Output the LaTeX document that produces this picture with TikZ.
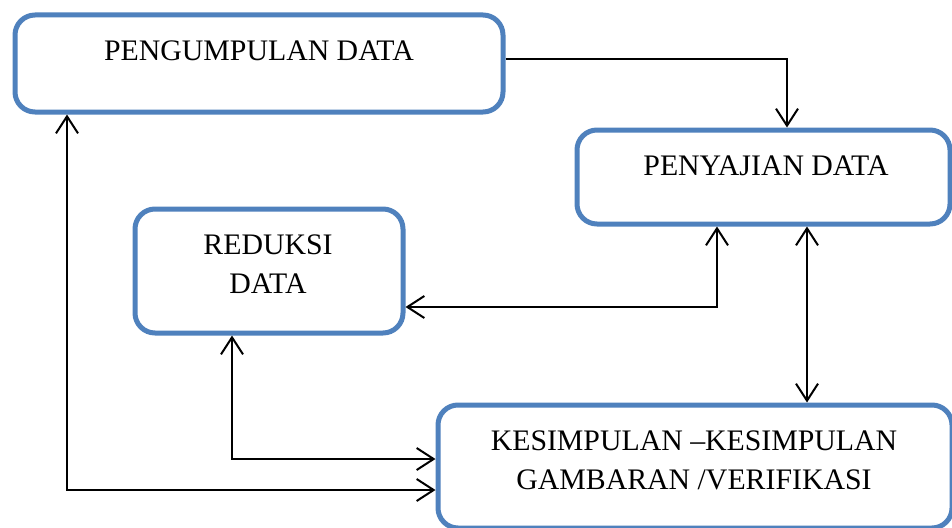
\documentclass[tikz,border=0pt]{standalone}
\usepackage{fontspec}
\setmainfont{Liberation Serif}
\usetikzlibrary{arrows.meta}
\definecolor{boxblue}{HTML}{4F81BD}
\tikzset{
  flowbox/.style={draw=boxblue, line width=5pt, rounded corners=20pt, fill=white, inner sep=0pt},
  conn/.style={line width=2pt, -{Straight Barb[length=17pt,width=22pt,line width=2pt]}},
  both/.style={line width=2pt, {Straight Barb[length=17pt,width=22pt,line width=2pt]}-{Straight Barb[length=17pt,width=22pt,line width=2pt]}},
  lbl/.style={font=\fontsize{29.8}{39}\selectfont, inner sep=0pt, anchor=base}
}
\begin{document}
\begin{tikzpicture}[x=1pt,y=-1pt]
\useasboundingbox (0,0) rectangle (952,527);
% boxes
\node[flowbox, minimum width=488pt, minimum height=97pt] (pd) at (259,63.5) {};
\node[flowbox, minimum width=373pt, minimum height=94pt] (ps) at (763.5,177) {};
\node[flowbox, minimum width=268pt, minimum height=124pt] (rd) at (269,271) {};
\node[flowbox, minimum width=514pt, minimum height=123pt] (ks) at (695,466.5) {};
% texts
\node[lbl] (tpd) at (259,60) {PENGUMPULAN DATA};
\node[lbl] (tps) at (766,175) {PENYAJIAN DATA};
\node[lbl] (trd1) at (268,254) {REDUKSI};
\node[lbl] (trd2) at (268,293) {DATA};
\node[lbl] (tks1) at (694,450) {KESIMPULAN –KESIMPULAN};
\node[lbl] (tks2) at (694,489) {GAMBARAN /VERIFIKASI};
% connectors
\coordinate (c1) at ([yshift=4.5pt]pd.east);
\coordinate (c2) at ([xshift=23.5pt]ps.north);
\draw[conn] (c1) -| (c2);
\coordinate (c3) at ([xshift=-46.5pt]ps.south);
\coordinate (c4) at ([yshift=-36pt]rd.east);
\draw[both] (c3) |- (c4);
\coordinate (c5) at ([xshift=43.5pt]ps.south);
\draw[both] (c5) -- (c5 |- ks.north);
\coordinate (c6) at ([xshift=-37pt]rd.south);
\coordinate (c7) at ([yshift=7.5pt]ks.west);
\draw[both] (c6) |- (c7);
\coordinate (c8) at ([xshift=-192pt]pd.south);
\coordinate (c9) at ([yshift=-23.5pt]ks.west);
\draw[both] (c8) |- (c9);
\end{tikzpicture}
\end{document}
